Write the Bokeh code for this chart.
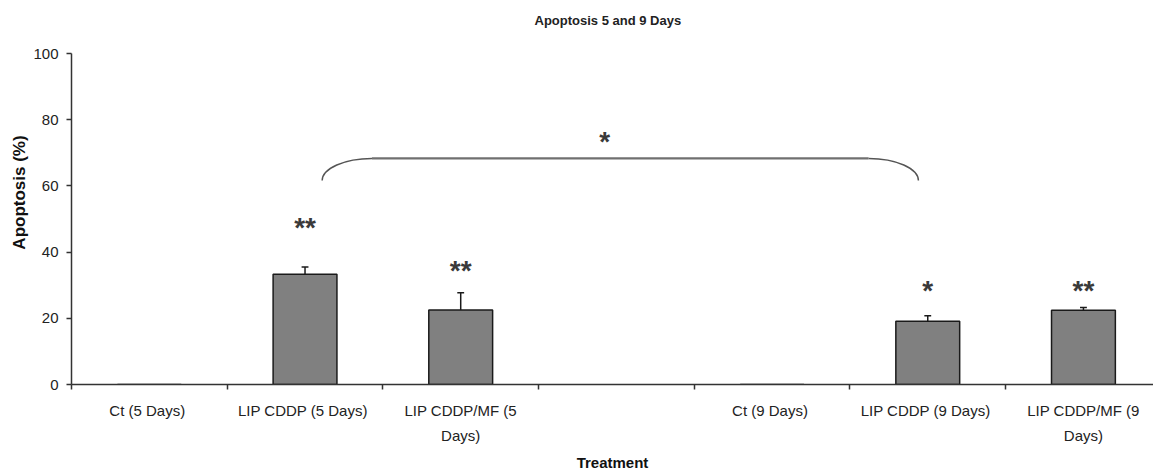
import numpy as np
from bokeh.plotting import figure
from bokeh.models import Range1d, FixedTicker, ColumnDataSource
from bokeh.core.properties import value
from bokeh.embed import file_html
from bokeh.resources import INLINE

# ---- data ----
categories = ["Ct  (5 Days)", "LIP CDDP  (5 Days)", "LIP CDDP/MF (5\nDays)", "",
              "Ct  (9 Days)", "LIP CDDP  (9 Days)", "LIP CDDP/MF (9\nDays)"]
apoptosis = [0.0, 33.3, 22.5, np.nan, 0.0, 19.1, 22.4]
errors = [0.0, 2.2, 5.2, np.nan, 0.0, 1.7, 0.9]
significance = ["", "**", "**", "", "", "*", "**"]
y_ticks = [0, 20, 40, 60, 80, 100]
title_text = "Apoptosis 5 and 9 Days"

FONT = "'Liberation Sans Narrow', 'Arial Narrow', 'Liberation Sans', sans-serif"

n = len(categories)
xc = np.arange(n) + 0.5
vals = np.array(apoptosis, dtype=float)
errs = np.array(errors, dtype=float)

W, H = 1153, 474
LEFT, BOTTOM = 71, 90
AXIS_PX = 331.0                      # pixel height of the 0..100 axis
frame_h = H - BOTTOM
y_top = 100.0 * frame_h / AXIS_PX    # frame reaches the top of the canvas
x_end = 6.95

p = figure(width=W, height=H, output_backend="svg", toolbar_location=None,
           x_range=Range1d(0, x_end), y_range=Range1d(0, y_top),
           min_border_left=LEFT, min_border_right=0, min_border_top=0,
           min_border_bottom=BOTTOM)
p.outline_line_color = None
p.xgrid.visible = False
p.ygrid.visible = False
p.background_fill_color = "white"
p.border_fill_color = "white"

# title (drawn inside the extended frame, above the 0..100 axis)
p.text(x=[x_end / 2 - 0.03], y=[100.0 * (frame_h - 20) / AXIS_PX], text=[title_text],
       text_align="center", text_baseline="middle", text_font=value(FONT),
       text_font_size="13px", text_font_style="bold", text_color="#222222")

# bars
src = ColumnDataSource(dict(x=xc, top=vals))
p.vbar(x="x", top="top", width=0.41, bottom=0, source=src,
       fill_color="#808080", line_color="#1a1a1a", line_width=1.5)

# error bars (upper only)
has_err = np.isfinite(errs) & (errs > 0)
p.segment(x0=xc[has_err], y0=vals[has_err], x1=xc[has_err], y1=(vals + errs)[has_err],
          line_color="#1a1a1a", line_width=1.5)
cap = 0.022
p.segment(x0=xc[has_err] - cap, y0=(vals + errs)[has_err], x1=xc[has_err] + cap,
          y1=(vals + errs)[has_err], line_color="#1a1a1a", line_width=1.5)

# significance stars
star_y = [0, 47.5, 34.5, 0, 0, 28.5, 28.5]
sx = [xc[i] for i in range(n) if significance[i]]
sy = [star_y[i] for i in range(n) if significance[i]]
st = [significance[i] for i in range(n) if significance[i]]
STAR_FONT = value("Liberation Sans")
p.text(x=sx, y=sy, text=st, text_align="center", text_baseline="middle",
       text_font=STAR_FONT, text_font_size="28px", text_font_style="bold",
       text_color="#3a3a3a")

# bracket between LIP CDDP (5 Days) and LIP CDDP (9 Days)
bx0, bx1 = xc[1] + 0.11, xc[5] - 0.06
by_low, by_high = 61.6, 68.3
w = 0.32
dy = by_high - by_low
p.bezier(x0=[bx0], y0=[by_low], x1=[bx0 + w], y1=[by_high],
         cx0=[bx0], cy0=[by_low + 0.55 * dy], cx1=[bx0 + 0.45 * w], cy1=[by_high],
         line_color="#555555", line_width=1.5)
p.segment(x0=[bx0 + w], y0=[by_high], x1=[bx1 - w], y1=[by_high],
          line_color="#707070", line_width=2.2)
p.bezier(x0=[bx1 - w], y0=[by_high], x1=[bx1], y1=[by_low],
         cx0=[bx1 - 0.45 * w], cy0=[by_high], cx1=[bx1], cy1=[by_low + 0.55 * dy],
         line_color="#555555", line_width=1.5)
p.text(x=[(bx0 + bx1) / 2 - 0.1], y=[73.5], text=["*"], text_align="center",
       text_baseline="middle", text_font=STAR_FONT,
       text_font_size="28px", text_font_style="bold", text_color="#3a3a3a")

# x axis
xa = p.xaxis[0]
xa.ticker = FixedTicker(ticks=list(xc), minor_ticks=list(np.arange(n + 1)))
xa.major_label_overrides = {float(x): c for x, c in zip(xc, categories)}
xa.major_tick_line_color = None
xa.major_tick_out = 0
xa.major_tick_in = 0
xa.minor_tick_out = 5
xa.minor_tick_in = 0
xa.minor_tick_line_color = "#333333"
xa.minor_tick_line_width = 1.5
xa.axis_line_color = "#333333"
xa.axis_line_width = 1.5
xa.major_label_standoff = 12
xa.major_label_text_font = FONT
xa.major_label_text_font_size = "15px"
xa.major_label_text_color = "#222222"
xa.major_label_text_line_height = 1.5
xa.axis_label = "Treatment"
xa.axis_label_text_font = FONT
xa.axis_label_text_font_size = "15px"
xa.axis_label_text_font_style = "bold"
xa.axis_label_text_color = "#111111"
xa.axis_label_standoff = 7

# y axis (only 0..100 drawn)
ya = p.yaxis[0]
ya.bounds = (0, 100)
ya.ticker = FixedTicker(ticks=y_ticks)
ya.minor_tick_line_color = None
ya.major_tick_out = 5
ya.major_tick_in = 0
ya.major_tick_line_color = "#333333"
ya.major_tick_line_width = 1.5
ya.axis_line_color = "#333333"
ya.axis_line_width = 1.5
ya.major_label_standoff = 8
ya.major_label_text_font = FONT
ya.major_label_text_font_size = "15px"
ya.major_label_text_color = "#222222"
ya.axis_label = "Apoptosis (%)"
ya.axis_label_text_font = FONT
ya.axis_label_text_font_size = "17px"
ya.axis_label_text_font_style = "bold"
ya.axis_label_text_color = "#111111"
ya.axis_label_standoff = 1

open("out.html", "w").write(file_html(p, INLINE))
